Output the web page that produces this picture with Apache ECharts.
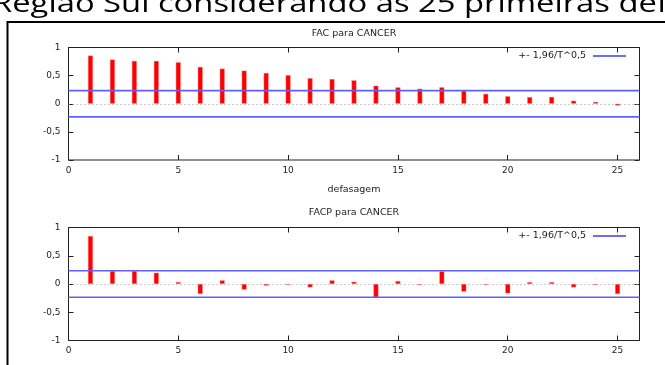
<!DOCTYPE html>
<html>
<head>
<meta charset="utf-8">
<script src="https://cdn.jsdelivr.net/npm/echarts@6/dist/echarts.min.js"></script>
<style>html,body{margin:0;padding:0;background:#fff;}#c{width:665px;height:365px;}</style>
</head>
<body>
<div id="c"></div>
<script>
const lags = [1,2,3,4,5,6,7,8,9,10,11,12,13,14,15,16,17,18,19,20,21,22,23,24,25];
const facValues = [0.857,0.786,0.762,0.762,0.738,0.655,0.625,0.589,0.548,0.510,0.455,0.440,0.417,0.321,0.292,0.268,0.294,0.230,0.176,0.134,0.119,0.122,0.054,0.033,-0.030];
const facpValues = [0.850,0.230,0.230,0.200,0.035,-0.177,0.065,-0.100,-0.030,-0.018,-0.060,0.065,0.040,-0.236,0.053,-0.018,0.224,-0.136,-0.018,-0.165,0.035,0.035,-0.060,-0.018,-0.177];
const confBand = 0.234;
const xRange = [0, 26];
const yTicks = [-1, -0.5, 0, 0.5, 1];
const titles = ['FAC para CANCER', 'FACP para CANCER'];
const xName = 'defasagem';
const legendName = '+- 1,96/T^0,5';
const headerText = 'Região Sul considerando as 25 primeiras defasagens';

const FONT = 'DejaVu Sans';
const TXT = '#222';
const BLUE = '#6060ff';

function pairs(vals){ return lags.map((l,i)=>[l, vals[i]]); }
function yFmt(v){ return String(v).replace('.', ','); }

const grids = [
  {left:68.5, top:47.5, width:571, height:112.5},
  {left:68.5, top:227.5, width:571, height:113}
];

const tick = {show:true, inside:true, length:5, lineStyle:{color:'#222', width:1}};
const xAxes = [], yAxes = [], series = [], legends = [], titleArr = [];
grids.forEach((g, gi) => {
  const base = {type:'value', gridIndex:gi, min:xRange[0], max:xRange[1], interval:5,
    splitLine:{show:false}, axisLine:{show:false, onZero:false}};
  xAxes.push(Object.assign({}, base, {position:'bottom',
    name:xName, nameLocation:'middle', nameGap:25,
    nameTextStyle:{fontFamily:FONT, fontSize:9.5, color:TXT},
    axisTick:tick,
    axisLabel:{show:true, margin:6, fontFamily:FONT, fontSize:9, color:TXT, showMaxLabel:false,
      formatter:v => (v % 5 === 0 ? String(v) : '')}}));
  xAxes.push(Object.assign({}, base, {position:'top', axisTick:tick, axisLabel:{show:false}}));
  const ybase = {type:'value', gridIndex:gi, min:yTicks[0], max:yTicks[yTicks.length-1], interval:0.5,
    splitLine:{show:false}, axisLine:{show:false, onZero:false}};
  yAxes.push(Object.assign({}, ybase, {position:'left', axisTick:tick,
    axisLabel:{show:true, margin:8, fontFamily:FONT, fontSize:9, color:TXT, formatter:yFmt}}));
  yAxes.push(Object.assign({}, ybase, {position:'right', axisTick:tick, axisLabel:{show:false}}));

  const vals = gi === 0 ? facValues : facpValues;
  series.push({
    type:'bar', xAxisIndex:gi*2, yAxisIndex:gi*2, data:pairs(vals), barWidth:5,
    itemStyle:{color:'#ff0000', borderColor:'rgba(255,150,150,0.8)', borderWidth:0.5},
    silent:true, z:3,
    markLine:{silent:true, symbol:'none', label:{show:false},
      lineStyle:{color:'#999', type:[1,3], width:1}, data:[{yAxis:0}], z:1}
  });
  [confBand, -confBand].forEach(c => {
    series.push({
      type:'line', name:legendName, xAxisIndex:gi*2, yAxisIndex:gi*2,
      data:[[xRange[0], c],[xRange[1], c]], symbol:'none', silent:true, z:4,
      color:BLUE, lineStyle:{color:BLUE, width:1.6}, itemStyle:{color:BLUE}
    });
  });
  legends.push({
    data:[{name:legendName, itemStyle:{color:'#3a3aff'}, lineStyle:{color:'#3a3aff'}}],
    right:39, top:(gi===0 ? 56 : 236) - 5, align:'right',
    icon:'rect', itemWidth:33, itemHeight:1.3, itemGap:6,
    textStyle:{fontFamily:FONT, fontSize:9.5, color:TXT, padding:[0,2,0,0]},
    selectedMode:false, padding:0
  });
  titleArr.push({
    text:titles[gi], left:354, textAlign:'center', top:(gi===0 ? 29 : 208),
    padding:0, textStyle:{fontFamily:FONT, fontSize:9.5, fontWeight:'normal', color:TXT}
  });
});

const chart = echarts.init(document.getElementById('c'), null, {renderer:'canvas'});
chart.setOption({
  animation:false,
  backgroundColor:'#ffffff',
  title:titleArr,
  legend:legends,
  grid:grids.map(g => Object.assign({show:true, borderColor:'#222', borderWidth:1, outerBoundsMode:'none', containLabel:false}, g)),
  xAxis:xAxes,
  yAxis:yAxes,
  series:series,
  graphic:[
    {type:'text', x:-8, y:-8, scaleX:1.26, silent:true,
      style:{text:headerText, font:'26px "Open Sans"', fill:'#000'}},
    {type:'polyline', silent:true, shape:{points:[[7.5,365],[7.5,22],[665,22]]},
      style:{stroke:'#000', lineWidth:2, fill:null}}
  ]
});
</script>
</body>
</html>
